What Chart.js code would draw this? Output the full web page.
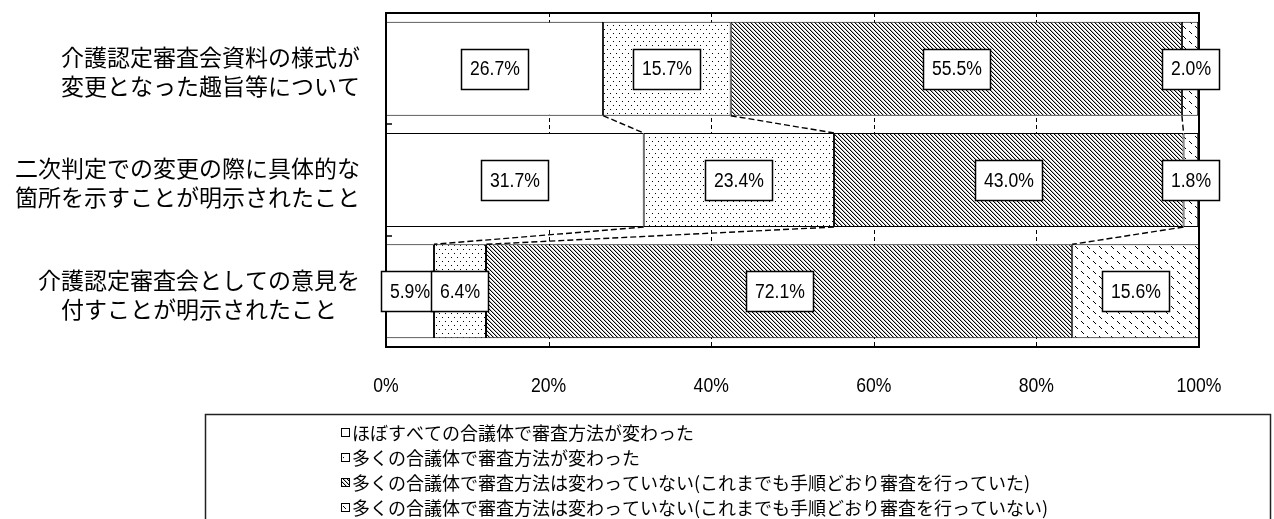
<!DOCTYPE html>
<html lang="ja">
<head>
<meta charset="utf-8">
<title>審査方法の変化</title>
<script src="https://cdn.jsdelivr.net/npm/chart.js@4.4.1/dist/chart.umd.min.js"></script>
<style>
  html, body { margin: 0; padding: 0; background: #fff; }
  #wrap { width: 1274px; height: 519px; }
</style>
</head>
<body>
<div id="wrap"><canvas id="chart" width="1274" height="519"></canvas></div>
<script>
var categories = [
  ['介護認定審査会資料の様式が', '変更となった趣旨等について'],
  ['二次判定での変更の際に具体的な', '箇所を示すことが明示されたこと'],
  ['介護認定審査会としての意見を', '付すことが明示されたこと']
];
var seriesNames = [
  'ほぼすべての合議体で審査方法が変わった',
  '多くの合議体で審査方法が変わった',
  '多くの合議体で審査方法は変わっていない(これまでも手順どおり審査を行っていた)',
  '多くの合議体で審査方法は変わっていない(これまでも手順どおり審査を行っていない)'
];
var allChanged = [26.7, 31.7, 5.9];
var manyChanged = [15.7, 23.4, 6.4];
var unchangedFollowed = [55.5, 43.0, 72.1];
var unchangedNotFollowed = [2.0, 1.8, 15.6];
var tickValues = [0, 20, 40, 60, 80, 100];
var tickLabels = ['0%', '20%', '40%', '60%', '80%', '100%'];

var numFont = '"Liberation Sans", Arial, sans-serif';
var jpFont = '"Noto Sans CJK JP", sans-serif';
var numScale = 0.88;

var canvas = document.getElementById('chart');
var cctx = canvas.getContext('2d');

/* hatch tiles, white ground */
function makeTile(w, h, draw) {
  var cv = document.createElement('canvas');
  cv.width = w; cv.height = h;
  var g = cv.getContext('2d');
  g.fillStyle = '#fff';
  g.fillRect(0, 0, w, h);
  g.fillStyle = '#000';
  draw(g);
  return cctx.createPattern(cv, 'repeat');
}
var patterns = [
  makeTile(4, 4, function() {}),
  makeTile(6, 8, function(g) { g.fillRect(1, 1, 1, 1); g.fillRect(4, 5, 1, 1); }),
  makeTile(4, 4, function(g) {
    for (var i = 0; i < 4; i++) {
      g.fillStyle = '#000'; g.fillRect(i, i, 1, 1);
      g.fillStyle = '#bbb'; g.fillRect((i + 1) % 4, i, 1, 1);
    }
  }),
  makeTile(12, 10, function(g) {
    for (var i = 0; i < 3; i++) { g.fillRect(1 + i, 1 + i, 1, 1); g.fillRect(7 + i, 6 + i, 1, 1); }
  })
];

var seriesValues = [allChanged, manyChanged, unchangedFollowed, unchangedNotFollowed];
var datasets = seriesValues.map(function(vals, s) {
  return {
    label: seriesNames[s],
    data: vals,
    backgroundColor: patterns[s],
    borderColor: '#000',
    borderWidth: 1,
    borderSkipped: false,
    barPercentage: 0.845,
    categoryPercentage: 1
  };
});

/* dashed grid, frame, inner ticks */
var framePlugin = {
  id: 'frame',
  beforeDatasetsDraw: function(chart) {
    var c = chart.ctx, a = chart.chartArea, xs = chart.scales.x;
    c.save();
    c.strokeStyle = '#000';
    c.lineWidth = 1;
    c.setLineDash([4, 3]);
    tickValues.forEach(function(v) {
      if (v === 0 || v === 100) return;
      var x = Math.round(xs.getPixelForValue(v)) + 0.5;
      c.beginPath(); c.moveTo(x, a.top); c.lineTo(x, a.bottom); c.stroke();
    });
    c.restore();
  },
  afterDatasetsDraw: function(chart) {
    var c = chart.ctx, a = chart.chartArea, ys = chart.scales.y;
    c.save();
    c.strokeStyle = '#000';
    c.lineWidth = 2;
    c.strokeRect(a.left, a.top, a.right - a.left, a.bottom - a.top);
    c.lineWidth = 1.5;
    for (var i = 1; i < categories.length; i++) {
      var y = Math.round((ys.getPixelForTick(i - 1) + ys.getPixelForTick(i)) / 2);
      c.beginPath(); c.moveTo(a.left, y); c.lineTo(a.left + 6, y); c.stroke();
    }
    /* series lines between bars */
    c.lineWidth = 1.4;
    c.setLineDash([6, 3]);
    for (var s = 0; s < seriesValues.length - 1; s++) {
      var meta = chart.getDatasetMeta(s);
      for (var k = 0; k < categories.length - 1; k++) {
        var p = meta.data[k], q = meta.data[k + 1];
        c.beginPath();
        c.moveTo(p.x, p.y + p.height / 2);
        c.lineTo(q.x, q.y - q.height / 2);
        c.stroke();
      }
    }
    c.restore();
  }
};

/* boxed value labels */
var valuePlugin = {
  id: 'values',
  afterDatasetsDraw: function(chart) {
    var c = chart.ctx;
    c.save();
    c.font = '20px ' + numFont;
    c.textAlign = 'center';
    c.textBaseline = 'middle';
    seriesValues.forEach(function(vals, s) {
      var meta = chart.getDatasetMeta(s);
      meta.data.forEach(function(bar, i) {
        var txt = vals[i].toFixed(1) + '%';
        var w = Math.round(c.measureText(txt).width * numScale + 17);
        var h = 40;
        var cx = (bar.x + bar.base) / 2, cy = bar.y;
        var x0 = Math.round(cx - w / 2) + 0.5, y0 = Math.round(cy - h / 2) + 0.5;
        c.fillStyle = '#fff';
        c.fillRect(x0, y0, w, h);
        c.strokeStyle = '#000';
        c.lineWidth = 1.5;
        c.setLineDash([]);
        c.strokeRect(x0, y0, w, h);
        c.save();
        c.translate(x0 + w / 2, cy + 1);
        c.scale(numScale, 1);
        c.fillStyle = '#000';
        c.fillText(txt, 0, 0);
        c.restore();
      });
    });
    c.restore();
  }
};

/* axis texts and legend */
var textPlugin = {
  id: 'texts',
  afterDraw: function(chart) {
    var c = chart.ctx, a = chart.chartArea, xs = chart.scales.x, ys = chart.scales.y;
    c.save();
    c.fillStyle = '#000';
    c.textBaseline = 'middle';

    c.font = '20px ' + numFont;
    c.textAlign = 'center';
    tickValues.forEach(function(v, i) {
      c.save();
      c.translate(xs.getPixelForValue(v), a.bottom + 39);
      c.scale(numScale, 1);
      c.fillText(tickLabels[i], 0, 0);
      c.restore();
    });

    c.font = '23px ' + jpFont;
    categories.forEach(function(lines, i) {
      var y = ys.getPixelForTick(i) + 3;
      var maxW = 0;
      lines.forEach(function(l) { maxW = Math.max(maxW, c.measureText(l).width); });
      var cx = 360 - maxW / 2;
      lines.forEach(function(l, li) {
        c.fillText(l, cx, y + (li - (lines.length - 1) / 2) * 29);
      });
    });

    /* legend box */
    c.strokeStyle = '#222';
    c.lineWidth = 1.5;
    c.strokeRect(205.5, 414.5, 1065, 130);
    c.font = '18px ' + jpFont;
    c.textAlign = 'left';
    seriesNames.forEach(function(name, s) {
      var y = 433 + s * 25;
      c.fillStyle = patterns[s];
      c.fillRect(341, y - 5, 9, 9);
      c.strokeStyle = '#000';
      c.lineWidth = 1;
      c.strokeRect(341.5, y - 4.5, 8, 8);
      c.fillStyle = '#000';
      c.fillText(name, 352, y);
    });
    c.restore();
  }
};

new Chart(canvas, {
  type: 'bar',
  data: { labels: categories, datasets: datasets },
  options: {
    indexAxis: 'y',
    responsive: false,
    devicePixelRatio: 1,
    animation: false,
    layout: { padding: { top: 13, right: 75, left: 0, bottom: 0 } },
    plugins: { legend: { display: false }, tooltip: { enabled: false } },
    scales: {
      x: {
        stacked: true,
        min: 0,
        max: 100,
        grid: { display: false },
        border: { display: false },
        ticks: { display: false, stepSize: 20 },
        afterFit: function(axis) { axis.height = 172; }
      },
      y: {
        stacked: true,
        grid: { display: false },
        border: { display: false },
        ticks: { display: false },
        afterFit: function(axis) { axis.width = 386; }
      }
    }
  },
  plugins: [framePlugin, valuePlugin, textPlugin]
});
</script>
</body>
</html>
